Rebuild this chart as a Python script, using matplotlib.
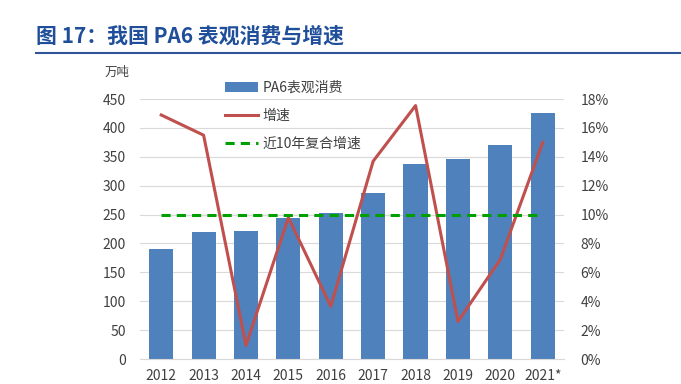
import matplotlib
matplotlib.use('Agg')
import matplotlib.pyplot as plt
import numpy as np

plt.rcParams['font.family'] = ['Noto Sans CJK SC', 'DejaVu Sans']

years = ['2012', '2013', '2014', '2015', '2016', '2017', '2018', '2019', '2020', '2021*']
consumption = [190, 220, 222, 245, 253, 287, 338, 347, 371, 426]   # 万吨
growth = [16.9, 15.5, 0.95, 9.8, 3.65, 13.7, 17.55, 2.6, 6.9, 15.0]  # %
cagr = 10.0  # 近10年复合增速, %

fig = plt.figure(figsize=(6.81, 3.84), dpi=100)
ax = fig.add_axes([0.2056, 0.065, 0.6225, 0.677])
ax2 = ax.twinx()

x = np.arange(len(years))
bars = ax.bar(x, consumption, width=0.57, color='#4F81BD', zorder=2, label='PA6表观消费')
ax.set_xlim(-0.5, len(years) - 0.5)
ax.set_ylim(0, 450)
ax.set_yticks(range(0, 451, 50))
ax.set_xticks(x)
ax.set_xticklabels(years)
ax.yaxis.grid(True, color='#D9D9D9', linewidth=0.8, zorder=0)
ax.set_axisbelow(True)

line, = ax2.plot(x, growth, color='#C0504D', linewidth=2.2, label='增速', zorder=3)
dash, = ax2.plot(x, [cagr] * len(x), color='#00A000', linewidth=2.2,
                 linestyle=(0, (3, 2)), label='近10年复合增速', zorder=3)
ax2.set_ylim(0, 18)
ax2.set_yticks(range(0, 19, 2))
ax2.set_yticklabels([f'{v}%' for v in range(0, 19, 2)])

for a in (ax, ax2):
    for s in a.spines.values():
        s.set_visible(False)
    a.tick_params(length=0, labelsize=10, colors='#404040')
ax.spines['bottom'].set_visible(True)
ax.spines['bottom'].set_color('#D9D9D9')
ax.tick_params(axis='y', pad=10)
ax2.tick_params(axis='y', pad=12)
ax.tick_params(axis='x', pad=7)

ax.text(-0.025, 1.09, '万吨', transform=ax.transAxes, fontsize=9, color='#404040', ha='right')

fig.legend(handles=[bars, line, dash], loc='upper left', bbox_to_anchor=(0.312, 0.822),
           frameon=False, fontsize=10, handlelength=2.4, handletextpad=0.3,
           labelspacing=1.0, labelcolor='#404040')

fig.text(0.053, 0.888, '图 17：我国 PA6 表观消费与增速', fontsize=15, fontweight='bold',
         color='#1F4E9A')
fig.add_artist(plt.Line2D([0.053, 1.0], [0.862, 0.862], color='#2F5597', linewidth=1.5))

fig.savefig('out.png', dpi=100)
